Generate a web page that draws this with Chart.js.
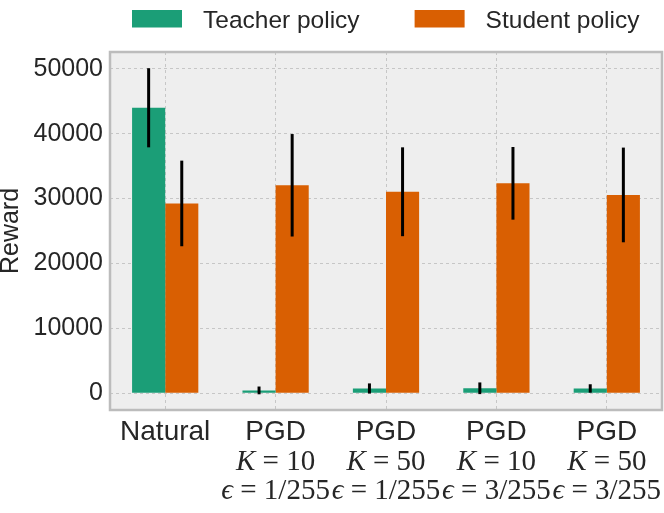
<!DOCTYPE html>
<html>
<head>
<meta charset="utf-8">
<script src="https://cdn.jsdelivr.net/npm/chart.js@4.4.0/dist/chart.umd.min.js"></script>
<style>
    html, body { margin: 0; padding: 0; background: #ffffff; }
    #wrap { width: 664px; height: 513px; }
</style>
</head>
<body>
<div id="wrap"><canvas id="rewardChart"></canvas></div>
<script>
// values
var categories = ['Natural', 'PGD', 'PGD', 'PGD', 'PGD'];
var kLabels = ['', '10', '50', '10', '50'];
var epsLabels = ['', '1/255', '1/255', '3/255', '3/255'];
var seriesNames = ['Teacher policy', 'Student policy'];
var teacherReward = [44000, 420, 720, 750, 720];
var teacherErr = [6100, 600, 780, 900, 650];
var studentReward = [29250, 32050, 31050, 32350, 30560];
var studentErr = [6600, 7900, 6850, 5600, 7300];
var yTicks = [0, 10000, 20000, 30000, 40000, 50000];

var textColor = '#262626';

var plotFrame = {
    id: 'plotFrame',
    beforeDraw: function(chart) {
        var a = chart.chartArea, ctx = chart.ctx;
        ctx.save();
        ctx.fillStyle = '#eeeeee';
        ctx.fillRect(a.left, a.top, a.right - a.left, a.bottom - a.top);
        ctx.restore();
    },
    afterDraw: function(chart) {
        var a = chart.chartArea, ctx = chart.ctx;
        ctx.save();
        ctx.strokeStyle = '#bcbcbc';
        ctx.lineWidth = 2.5;
        ctx.strokeRect(a.left, a.top, a.right - a.left, a.bottom - a.top);
        ctx.restore();
    }
};

var errorBars = {
    id: 'errorBars',
    afterDatasetsDraw: function(chart) {
        var ctx = chart.ctx, y = chart.scales.y;
        ctx.save();
        ctx.strokeStyle = '#000000';
        ctx.lineWidth = 3;
        chart.data.datasets.forEach(function(ds, d) {
            var meta = chart.getDatasetMeta(d);
            meta.data.forEach(function(bar, i) {
                var v = ds.data[i], e = ds.errors[i];
                ctx.beginPath();
                ctx.moveTo(bar.x, y.getPixelForValue(v + e));
                ctx.lineTo(bar.x, y.getPixelForValue(v - e));
                ctx.stroke();
            });
        });
        ctx.restore();
    }
};

var topLegend = {
    id: 'topLegend',
    afterDraw: function(chart) {
        var ctx = chart.ctx;
        var x = 132;
        ctx.save();
        ctx.font = '24.5px "Liberation Sans", Arial, sans-serif';
        ctx.textBaseline = 'alphabetic';
        ctx.textAlign = 'left';
        chart.data.datasets.forEach(function(ds) {
            ctx.fillStyle = ds.backgroundColor;
            ctx.fillRect(x, 10, 50, 17.5);
            ctx.fillStyle = textColor;
            ctx.fillText(ds.label, x + 71, 28);
            x += 71 + ctx.measureText(ds.label).width + 55;
        });
        ctx.restore();
    }
};

function drawMath(ctx, cx, y, symbol, value) {
    var italic = 'italic 29px "Liberation Serif", "DejaVu Serif", serif';
    var upright = '29px "Liberation Serif", "DejaVu Serif", serif';
    var rest = ' = ' + value;
    ctx.font = italic;
    var w1 = ctx.measureText(symbol).width;
    ctx.font = upright;
    var w2 = ctx.measureText(rest).width;
    var start = cx - (w1 + w2) / 2;
    ctx.textAlign = 'left';
    ctx.font = italic;
    ctx.fillText(symbol, start, y);
    ctx.font = upright;
    ctx.fillText(rest, start + w1, y);
}

var xLabels = {
    id: 'xLabels',
    afterDraw: function(chart) {
        var ctx = chart.ctx, xs = chart.scales.x;
        var base = chart.chartArea.bottom;
        ctx.save();
        ctx.fillStyle = textColor;
        ctx.textBaseline = 'alphabetic';
        categories.forEach(function(name, i) {
            var cx = xs.getPixelForTick(i);
            ctx.font = '28px "Liberation Sans", Arial, sans-serif';
            ctx.textAlign = 'center';
            ctx.fillText(name, cx, base + 30);
            if (kLabels[i]) drawMath(ctx, cx, base + 60, 'K', kLabels[i]);
            if (epsLabels[i]) drawMath(ctx, cx, base + 89, '\u03F5', epsLabels[i]);
        });
        ctx.restore();
    }
};

var myChart = new Chart(document.getElementById('rewardChart'), {
    type: 'bar',
    data: {
        labels: categories,
        datasets: [
            {
                label: seriesNames[0],
                backgroundColor: '#1b9e77',
                data: teacherReward,
                errors: teacherErr
            },
            {
                label: seriesNames[1],
                backgroundColor: '#d95f02',
                data: studentReward,
                errors: studentErr
            }
        ]
    },
    options: {
        responsive: true,
        maintainAspectRatio: false,
        animation: false,
        layout: { padding: { top: 52, right: 2, left: 0, bottom: 0 } },
        datasets: { bar: { categoryPercentage: 0.6, barPercentage: 1.0 } },
        plugins: {
            legend: { display: false },
            tooltip: { enabled: false }
        },
        scales: {
            x: {
                grid: { color: '#c6c6c6', lineWidth: 1, offset: false, drawTicks: false },
                border: { display: false, dash: [3, 3] },
                ticks: { display: false },
                afterFit: function(scale) { scale.height = 103; }
            },
            y: {
                min: -2600,
                max: 52600,
                grid: { color: '#c6c6c6', lineWidth: 1, drawTicks: false },
                border: { display: false, dash: [3, 3] },
                ticks: {
                    color: textColor,
                    padding: 7,
                    font: { family: '"Liberation Sans", Arial, sans-serif', size: 25 },
                    callback: function(value) { return String(value); }
                },
                afterBuildTicks: function(scale) {
                    scale.ticks = yTicks.map(function(v) { return { value: v }; });
                },
                title: {
                    display: true,
                    text: 'Reward',
                    color: textColor,
                    padding: { top: -1, bottom: 0 },
                    font: { family: '"Liberation Sans", Arial, sans-serif', size: 25, lineHeight: 0.95 }
                },
                afterFit: function(scale) { scale.width = 110; }
            }
        }
    },
    plugins: [plotFrame, errorBars, topLegend, xLabels]
});
</script>
</body>
</html>
